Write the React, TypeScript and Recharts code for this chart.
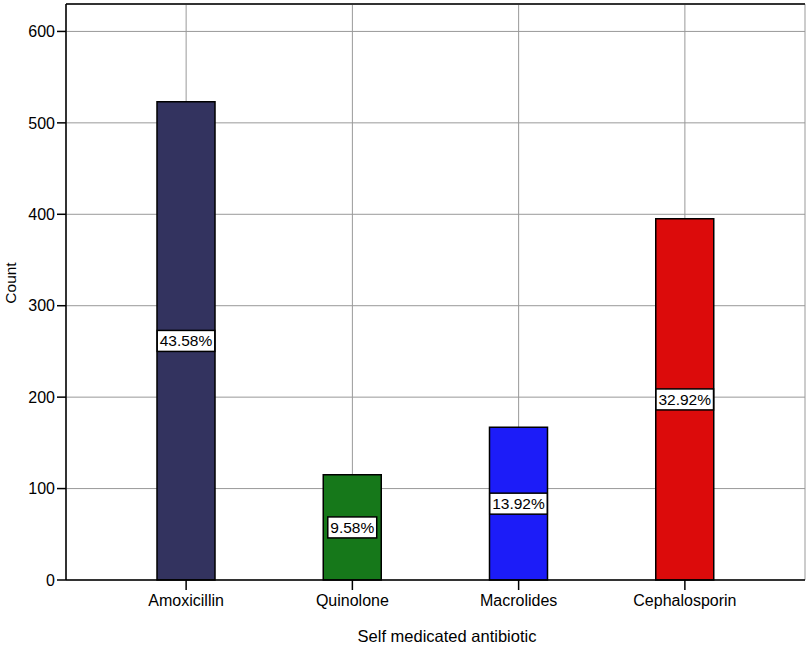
import React from "react";
import { Bar, BarChart, CartesianGrid, Cell, LabelList, XAxis, YAxis } from "recharts";

const categories = ["Amoxicillin", "Quinolone", "Macrolides", "Cephalosporin"];
const counts = [523, 115, 167, 395];
const percentLabels = ["43.58%", "9.58%", "13.92%", "32.92%"];
const yTicks = [0, 100, 200, 300, 400, 500, 600];

const barColors = ["#33335f", "#16781a", "#1c1cf8", "#dc0b0b"];
const font = "'Liberation Sans', Arial, sans-serif";
const yMax = 630;

const data = categories.map((name, i) => ({
  name,
  count: counts[i],
  pct: percentLabels[i],
}));

const pctSize = 15.5;
const charW = (c: string) => (c === "." ? 0.278 : c === "%" ? 0.889 : 0.556) * pctSize;

const PctLabel = (props: any) => {
  const { x, y, width, height, value } = props;
  const cx = x + width / 2;
  const cy = y + height / 2;
  const w = String(value).split("").reduce((s, c) => s + charW(c), 0) + 5;
  return (
    <g>
      <rect x={cx - w / 2} y={cy - 10.5} width={w} height={21} fill="#fff" stroke="#000" strokeWidth={1.5} />
      <text x={cx} y={cy + 5.5} textAnchor="middle" fontSize={pctSize} fontFamily={font} fill="#000">
        {value}
      </text>
    </g>
  );
};

// axis titles sit a little off-centre in the original
const CountLabel = () => (
  <text x={16} y={283} transform="rotate(-90, 16, 283)" textAnchor="middle" fontSize={15.5} fontFamily={font} fill="#000">
    Count
  </text>
);

const XTitle = () => (
  <text x={447} y={642} textAnchor="middle" fontSize={16.5} fontFamily={font} fill="#000">
    Self medicated antibiotic
  </text>
);

export default function App() {
  return (
    <div style={{ position: "absolute", left: 0, top: 0, background: "#fff" }}>
      <BarChart width={810} height={648} data={data} margin={{ top: 3, right: 5, left: 0, bottom: 0 }}>
        <CartesianGrid stroke="#999" strokeWidth={1} />
        <XAxis
          dataKey="name"
          height={68}
          padding={{ left: 37, right: 37 }}
          stroke="#000"
          strokeWidth={1.5}
          tickSize={10}
          tickMargin={5}
          tick={{ fontSize: 16, fontFamily: font, fill: "#000" }}
          label={<XTitle />}
        />
        <XAxis xAxisId="top" orientation="top" dataKey="name" height={1} tick={false} tickLine={false} stroke="#333" strokeWidth={2} />
        <YAxis
          width={66}
          domain={[0, yMax]}
          ticks={yTicks}
          stroke="#000"
          strokeWidth={1.5}
          tickSize={9}
          tickMargin={2}
          tick={{ fontSize: 16, fontFamily: font, fill: "#000" }}
          label={<CountLabel />}
        />
        <YAxis yAxisId="right" orientation="right" width={0} tick={false} tickLine={false} stroke="#333" strokeWidth={1.5} />
        <Bar dataKey="count" barSize={58} stroke="#000" strokeWidth={1.5} isAnimationActive={false}>
          {data.map((d, i) => (
            <Cell key={d.name} fill={barColors[i]} />
          ))}
          <LabelList dataKey="pct" content={PctLabel} />
        </Bar>
      </BarChart>
    </div>
  );
}
